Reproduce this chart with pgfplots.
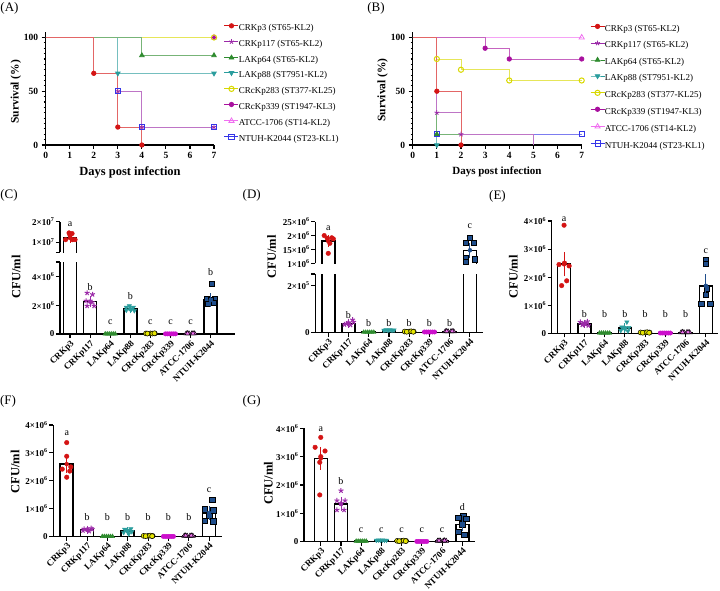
\documentclass[border=0pt]{standalone}
\usepackage{fontspec}
\setmainfont{Liberation Serif}
\usepackage{pgfplots}
\pgfplotsset{compat=1.18}
\usetikzlibrary{plotmarks}
\newcommand\fs[1]{\fontsize{#1}{#1}\selectfont}
\newcommand\tx[2]{#1×10\textsuperscript{#2}}
\definecolor{cA}{HTML}{D41414}
\definecolor{cB}{HTML}{9B2AA8}
\definecolor{cC}{HTML}{2E8B2E}
\definecolor{cD}{HTML}{2A9D9D}
\definecolor{cE}{HTML}{D8D800}
\definecolor{cF}{HTML}{A8109E}
\definecolor{cG}{HTML}{F070F0}
\definecolor{cH}{HTML}{3535E8}
\definecolor{cHb}{HTML}{1F4E8C}
\definecolor{cFb}{HTML}{CC10CC}
\definecolor{cEb}{HTML}{E6E600}
\pgfplotsset{
  survax/.style={scale only axis, xmin=0, xmax=7, ymin=0, ymax=105,
    axis lines=left, axis line style={-, line width=1.5pt},
    xtick={0,...,7}, ytick={0,50,100}, minor y tick num=9,
    tick align=outside, major tick length=4pt, minor tick length=2.2pt,
    every tick/.style={black, line width=1.1pt},
    tick label style={font=\bfseries\fs{9.5}}, /pgf/number format/assume math mode=true,
    clip=false, legend cell align=left,
    legend style={draw=none, fill=none, inner sep=0pt, outer sep=0pt, font=\fs{9}, anchor=north west,
      nodes={inner sep=0pt, text height=6.5pt, text depth=2pt},
      /tikz/every even column/.append style={column sep=-1.5pt}},
    legend image code/.code={\draw[mark repeat=2, mark phase=2, #1] plot coordinates {(0pt,2.5pt) (7pt,2.5pt) (14pt,2.5pt)};},
  },
  barax/.style={scale only axis, axis x line=bottom, axis y line=left,
    axis line style={-, line width=1.5pt},
    tick align=outside, major tick length=4pt, every tick/.style={black, line width=1.1pt},
    xtick={0,...,7}, xticklabels={CRKp3,CRKp117,LAKp64,LAKp88,CRcKp283,CRcKp339,ATCC-1706,NTUH-K2044},
    xticklabel style={rotate=45, anchor=north east, font=\bfseries\fs{9}, inner sep=1pt},
    yticklabel style={font=\bfseries\fs{9}, inner sep=1.5pt},
    scaled y ticks=false, clip mode=individual},
  upax/.style={scale only axis, axis x line=none, axis y line=left,
    axis line style={-, line width=1.5pt},
    tick align=outside, major tick length=4pt, every tick/.style={black, line width=1.1pt},
    xtick=\empty,
    yticklabel style={font=\bfseries\fs{9}, inner sep=1.5pt},
    scaled y ticks=false, clip mode=individual},
  barst/.style={ybar, bar width=13pt, fill=white, draw=black, line width=1.5pt, forget plot},
  bout/.style={draw=black, line width=1.5pt, no marks, forget plot},
  pA/.style={only marks, mark=*, mark size=2.3pt, color=cA},
  pB/.style={only marks, mark=star, mark size=2.6pt, color=cB, mark options={line width=1pt}},
  pC/.style={only marks, mark=triangle*, mark size=2.5pt, color=cC},
  pD/.style={only marks, mark=triangle*, mark size=2.5pt, color=cD, mark options={rotate=180}},
  pE/.style={only marks, mark=*, mark size=2.5pt, mark options={fill=cEb, draw=black, line width=0.5pt}},
  pF/.style={only marks, mark=*, mark size=2.2pt, color=cFb},
  pG/.style={only marks, mark=triangle*, mark size=2.8pt, mark options={fill=cG, draw=black, line width=0.5pt}},
  pH/.style={only marks, mark=square*, mark size=2.7pt, mark options={fill=cHb, draw=black, line width=0.5pt}},
  eb/.style={only marks, mark=none, color=#1, error bars/.cd, y dir=both, y explicit,
    error bar style={line width=0.9pt, color=#1}, error mark options={mark size=3.5pt, line width=0.9pt, color=#1}},
  sA/.style={color=cA, mark=*, mark size=2.2pt, line width=0.8pt},
  sB/.style={color=cB, mark=star, mark size=2.5pt, line width=0.8pt},
  sC/.style={color=cC, mark=triangle*, mark size=2.6pt, line width=0.8pt},
  sD/.style={color=cD, mark=triangle*, mark size=2.6pt, line width=0.8pt, mark options={rotate=180}},
  sE/.style={color=cE, mark=o, mark size=2.6pt, line width=0.8pt, mark options={line width=1pt}},
  sF/.style={color=cF, mark=*, mark size=2.2pt, line width=0.8pt},
  sG/.style={color=cG, mark=triangle, mark size=3pt, line width=0.8pt},
  sH/.style={color=cH, mark=square, mark size=2.6pt, line width=0.8pt, mark options={line width=0.9pt}},
  ln/.style={const plot, no marks, draw=#1!65, line width=0.9pt, forget plot},
}
\newcommand\survlegend{%
  \addlegendimage{sA}\addlegendentry{CRKp3 (ST65-KL2)}
  \addlegendimage{sB}\addlegendentry{CRKp117 (ST65-KL2)}
  \addlegendimage{sC}\addlegendentry{LAKp64 (ST65-KL2)}
  \addlegendimage{sD}\addlegendentry{LAKp88 (ST7951-KL2)}
  \addlegendimage{sE}\addlegendentry{CRcKp283 (ST377-KL25)}
  \addlegendimage{sF}\addlegendentry{CRcKp339 (ST1947-KL3)}
  \addlegendimage{sG}\addlegendentry{ATCC-1706 (ST14-KL2)}
  \addlegendimage{sH}\addlegendentry{NTUH-K2044 (ST23-KL1)}}
\begin{document}
\begin{tikzpicture}
\path[use as bounding box] (0pt,0pt) rectangle (720pt,590pt);
% panel labels
\node[font=\fs{13}] at (9.5pt,582pt) {(A)};
\node[font=\fs{13}] at (376pt,582pt) {(B)};
\node[font=\fs{13}] at (9pt,395pt) {(C)};
\node[font=\fs{13}] at (251.7pt,395pt) {(D)};
\node[font=\fs{13}] at (497.5pt,394pt) {(E)};
\node[font=\fs{13}] at (8pt,189pt) {(F)};
\node[font=\fs{13}] at (251.7pt,188.3pt) {(G)};
% axis titles
\node[rotate=90, font=\bfseries\fs{11.5}] at (15.8pt,498.3pt) {Survival (\%)};
\node[rotate=90, font=\bfseries\fs{11.5}] at (382.5pt,500pt) {Survival (\%)};
\node[font=\bfseries\fs{12.5}] at (130pt,417.3pt) {Days post infection};
\node[font=\bfseries\fs{11}] at (497pt,417.7pt) {Days post infection};
\node[rotate=90, font=\bfseries\fs{12.5}] at (16pt,313pt) {CFU/ml};
\node[rotate=90, font=\bfseries\fs{12.5}] at (271.7pt,333pt) {CFU/ml};
\node[rotate=90, font=\bfseries\fs{12.5}] at (513.3pt,313.3pt) {CFU/ml};
\node[rotate=90, font=\bfseries\fs{12.5}] at (15pt,118.3pt) {CFU/ml};
\node[rotate=90, font=\bfseries\fs{12.5}] at (268.3pt,106.7pt) {CFU/ml};

% ---------------- (A)
\begin{axis}[survax, at={(45.7pt,445pt)}, anchor=south west, width=168.3pt, height=112.9pt,
  legend style={at={(1.06,1.075)}, row sep=6.65pt}]
\survlegend
\addplot[ln=cH] coordinates {(0,100)(3,50)(4,16.67)(7,16.67)};
\addplot[ln=cB] coordinates {(0,100)(3,50)(4,16.67)(7,16.67)};
\addplot[ln=cG] coordinates {(0,100)(7,100)};
\addplot[ln=cF] coordinates {(0,100)(7,100)};
\addplot[ln=cE] coordinates {(0,100)(7,100)};
\addplot[ln=cD] coordinates {(0,100)(3,66.67)(7,66.67)};
\addplot[ln=cC] coordinates {(0,100)(4,83.33)(7,83.33)};
\addplot[ln=cA] coordinates {(0,100)(2,66.67)(3,16.67)(4,0)};
\addplot[sB, only marks, forget plot] coordinates {(3,50)(4,16.67)(7,16.67)};
\addplot[sH, only marks, forget plot] coordinates {(3,50)(4,16.67)(7,16.67)};
\addplot[sG, only marks, forget plot] coordinates {(7,100)};
\addplot[sE, only marks, forget plot] coordinates {(7,100)};
\addplot[sF, only marks, mark size=1.5pt, forget plot] coordinates {(7,100)};
\addplot[sD, only marks, forget plot] coordinates {(3,66.67)(7,66.67)};
\addplot[sC, only marks, forget plot] coordinates {(4,83.33)(7,83.33)};
\addplot[sA, only marks, forget plot] coordinates {(2,66.67)(3,16.67)(4,0)};
\end{axis}

% ---------------- (B)
\begin{axis}[survax, at={(412.7pt,445pt)}, anchor=south west, width=169pt, height=112.9pt,
  legend style={at={(1.05,1.07)}, row sep=7.5pt}]
\survlegend
\addplot[ln=cH] coordinates {(0,100)(1,10)(7,10)};
\addplot[ln=cG] coordinates {(0,100)(7,100)};
\addplot[ln=cF] coordinates {(0,100)(3,90)(4,80)(7,80)};
\addplot[ln=cE] coordinates {(0,100)(1,80)(2,70)(4,60)(7,60)};
\addplot[ln=cD] coordinates {(0,100)(1,0)};
\addplot[ln=cC] coordinates {(0,100)(1,10)(2,0)};
\addplot[ln=cB] coordinates {(0,100)(1,30)(2,10)(5,0)};
\addplot[ln=cA] coordinates {(0,100)(1,50)(2,0)};
\addplot[sH, only marks, forget plot] coordinates {(1,10)(7,10)};
\addplot[sG, only marks, forget plot] coordinates {(7,100)};
\addplot[sF, only marks, forget plot] coordinates {(3,90)(4,80)(7,80)};
\addplot[sE, only marks, forget plot] coordinates {(1,80)(2,70)(4,60)(7,60)};
\addplot[sD, only marks, forget plot] coordinates {(1,0)};
\addplot[sC, only marks, forget plot] coordinates {(1,10)};
\addplot[sB, only marks, forget plot] coordinates {(1,30)(2,10)};
\addplot[sA, only marks, forget plot] coordinates {(1,50)(2,0)};
\end{axis}

% ---------------- (C) lower
\begin{axis}[barax, at={(60pt,256pt)}, anchor=south west, width=175pt, height=72pt,
  xmin=-0.5, xmax=8.21, ymin=0, ymax=5e6, ytick={0,2e6,4e6,5e6},
  yticklabels={0,\tx{2}{6},\tx{4}{6},{}}]
\addplot[barst] coordinates {(0,1.2e7)(1,2.25e6)(2,2e4)(3,1.72e6)(4,4e4)(5,2e4)(6,4e4)(7,2.35e6)};
\addplot[pB] coordinates {(0.85,2.85e6)(1.12,2.75e6)(0.8,2.3e6)(1.1,2.2e6)(0.85,1.95e6)(1.2,1.95e6)};
\addplot[pC] coordinates {(1.75,1e4)(1.85,1e4)(1.95,1e4)(2.05,1e4)(2.15,1e4)(2.25,1e4)};
\addplot[pD] coordinates {(2.95,1.95e6)(2.8,1.85e6)(3.15,1.85e6)(2.8,1.65e6)(3.05,1.72e6)(3.2,1.62e6)};
\addplot[pE] coordinates {(3.78,4e4)(4,4e4)(4.22,4e4)(3.85,3e4)(4.1,3e4)(4.2,5e4)};
\addplot[pF] coordinates {(4.75,1e4)(4.85,1e4)(4.95,1e4)(5.05,1e4)(5.15,1e4)(5.25,1e4)};
\addplot[pG] coordinates {(5.78,3e4)(5.92,3e4)(6.06,3e4)(6.2,3e4)(5.85,4e4)(6.12,4e4)};
\addplot[pH] coordinates {(7.05,3.5e6)(6.8,2.45e6)(7.2,2.45e6)(7,2.35e6)(6.85,2.1e6)(7.15,2.15e6)};
\addplot[eb=cB] coordinates {(1,2.25e6) +- (0,1.5e5)};
\addplot[eb=cD] coordinates {(3,1.72e6) +- (0,5e4)};
\addplot[eb=cHb] coordinates {(7,2.35e6) +- (0,2.2e5)};
\node[font=\fs{10}] at (axis cs:1,3.26e6) {b};
\node[font=\fs{10}] at (axis cs:2,0.79e6) {c};
\node[font=\fs{10}] at (axis cs:3,2.6e6) {b};
\node[font=\fs{10}] at (axis cs:4,0.79e6) {c};
\node[font=\fs{10}] at (axis cs:5,0.79e6) {c};
\node[font=\fs{10}] at (axis cs:6,0.79e6) {c};
\node[font=\fs{10}] at (axis cs:7,4.28e6) {b};
\end{axis}
% (C) upper
\begin{axis}[upax, at={(60pt,337.7pt)}, anchor=south west, width=175pt, height=30.6pt,
  xmin=-0.5, xmax=8.21, ymin=5e6, ymax=2e7, ytick={5e6,1e7,2e7},
  yticklabels={{},\tx{1}{7},\tx{2}{7}}]
\addplot[bout] coordinates {(-0.323,0)(-0.323,1.2e7)(0.323,1.2e7)(0.323,0)};
\addplot[pA] coordinates {(-0.05,1.45e7)(0.1,1.42e7)(0.0,1.33e7)(-0.22,1.12e7)(0.12,1.12e7)(0.25,1.12e7)};
\addplot[eb=cA] coordinates {(0,1.2e7) +- (0,6e5)};
\node[font=\fs{10}] at (axis cs:0,1.89e7) {a};
\end{axis}

% ---------------- (D) lower
\begin{axis}[barax, at={(315.3pt,257.3pt)}, anchor=south west, width=168pt, height=58.7pt,
  xmin=-0.64, xmax=7.66, ymin=0, ymax=2.5e5, ytick={0,2e5,2.5e5},
  yticklabels={0,\tx{2}{5},{}}]
\addplot[barst] coordinates {(0,1.8e6)(1,4e4)(2,3e3)(3,1e4)(4,5e3)(5,3e3)(6,5e3)(7,1.47e6)};
\addplot[pB] coordinates {(0.8,3.5e4)(1.2,5.5e4)(1,4.2e4)(0.9,3.8e4)(1.1,3.3e4)(1.25,4.5e4)};
\addplot[pC] coordinates {(1.75,2e3)(1.85,2e3)(1.95,2e3)(2.05,2e3)(2.15,2e3)(2.25,2e3)};
\addplot[pD] coordinates {(2.75,1e4)(2.85,1.2e4)(2.95,1e4)(3.05,1.2e4)(3.15,1e4)(3.25,1.1e4)};
\addplot[pE] coordinates {(3.78,5e3)(4,5e3)(4.22,5e3)(3.88,4e3)(4.1,6e3)(4.2,4e3)};
\addplot[pF] coordinates {(4.75,3e3)(4.85,3e3)(4.95,3e3)(5.05,3e3)(5.15,3e3)(5.25,3e3)};
\addplot[pG] coordinates {(5.78,5e3)(5.92,5e3)(6.06,5e3)(6.2,5e3)(5.85,6e3)(6.12,6e3)};
\addplot[eb=cB] coordinates {(1,4e4) +- (0,4e3)};
\node[font=\fs{10}] at (axis cs:1,7.5e4) {b};
\node[font=\fs{10}] at (axis cs:2,4.3e4) {b};
\node[font=\fs{10}] at (axis cs:3,4.3e4) {b};
\node[font=\fs{10}] at (axis cs:4,4.3e4) {b};
\node[font=\fs{10}] at (axis cs:5,4.3e4) {b};
\node[font=\fs{10}] at (axis cs:6,4.3e4) {b};
\end{axis}
% (D) upper
\begin{axis}[upax, at={(315.3pt,326.7pt)}, anchor=south west, width=168pt, height=41.6pt,
  xmin=-0.64, xmax=7.66, ymin=1e6, ymax=2.5e6, ytick={1e6,1.5e6,2e6,2.5e6},
  yticklabels={\tx{1}{6},\tx{15}{6},\tx{2}{6},\tx{25}{6}}]
\addplot[bout] coordinates {(-0.321,0)(-0.321,1.8e6)(0.321,1.8e6)(0.321,0)};
\addplot[bout] coordinates {(6.679,0)(6.679,1.47e6)(7.321,1.47e6)(7.321,0)};
\addplot[pA] coordinates {(-0.2,2.0e6)(-0.05,1.9e6)(0.17,1.92e6)(0.25,1.88e6)(0.08,1.72e6)(0,1.36e6)};
\addplot[pH] coordinates {(7.0,1.92e6)(6.8,1.75e6)(7.2,1.75e6)(6.8,1.2e6)(7.25,1.15e6)(6.8,1.05e6)};
\addplot[eb=cA] coordinates {(0,1.8e6) +- (0,9e4)};
\addplot[eb=cHb] coordinates {(7,1.47e6) +- (0,1.5e5)};
\node[font=\fs{10}] at (axis cs:0,2.26e6) {a};
\node[font=\fs{10}] at (axis cs:7,2.32e6) {c};
\end{axis}

% ---------------- (E)
\begin{axis}[barax, at={(551.7pt,256.7pt)}, anchor=south west, width=166.3pt, height=112.3pt,
  xmin=-0.61, xmax=7.6, ymin=0, ymax=4e6, ytick={0,1e6,2e6,3e6,4e6},
  yticklabels={0,\tx{1}{6},\tx{2}{6},\tx{3}{6},\tx{4}{6}}]
\addplot[barst] coordinates {(0,2.46e6)(1,3.4e5)(2,1e4)(3,1.9e5)(4,3e4)(5,1e4)(6,3e4)(7,1.69e6)};
\addplot[pA] coordinates {(0,3.85e6)(0.02,2.5e6)(-0.25,2.45e6)(0.25,2.4e6)(0.13,1.87e6)(-0.12,1.7e6)};
\addplot[pB] coordinates {(0.8,4e5)(1.15,4.2e5)(1,3.5e5)(0.9,3e5)(1.2,2.8e5)(1.05,3.3e5)};
\addplot[pC] coordinates {(1.75,1e4)(1.85,1e4)(1.95,1e4)(2.05,1e4)(2.15,1e4)(2.25,1e4)};
\addplot[pD] coordinates {(3.1,4e5)(2.85,2.2e5)(3.2,2e5)(3,1.5e5)(2.8,1e5)(3.15,8e4)};
\addplot[pE] coordinates {(3.78,3e4)(4,3e4)(4.22,3e4)(3.88,2e4)(4.1,4e4)(4.2,2e4)};
\addplot[pF] coordinates {(4.75,1e4)(4.85,1e4)(4.95,1e4)(5.05,1e4)(5.15,1e4)(5.25,1e4)};
\addplot[pG] coordinates {(5.78,3e4)(5.92,3e4)(6.06,3e4)(6.2,3e4)(5.85,4e4)(6.12,4e4)};
\addplot[pH] coordinates {(7,2.6e6)(7,2.48e6)(7.05,1.6e6)(7,1.37e6)(6.78,1.05e6)(7.22,1.05e6)};
\addplot[eb=cA] coordinates {(0,2.46e6) +- (0,3.1e5)};
\addplot[eb=cB] coordinates {(1,3.4e5) +- (0,2.5e4)};
\addplot[eb=cD] coordinates {(3,1.9e5) +- (0,4.8e4)};
\addplot[eb=cHb] coordinates {(7,1.69e6) +- (0,2.8e5)};
\node[font=\fs{10}] at (axis cs:0,4.07e6) {a};
\node[font=\fs{10}] at (axis cs:1,0.69e6) {b};
\node[font=\fs{10}] at (axis cs:2,0.69e6) {b};
\node[font=\fs{10}] at (axis cs:3,0.69e6) {b};
\node[font=\fs{10}] at (axis cs:4,0.69e6) {b};
\node[font=\fs{10}] at (axis cs:5,0.69e6) {b};
\node[font=\fs{10}] at (axis cs:6,0.69e6) {b};
\node[font=\fs{10}] at (axis cs:7,2.91e6) {c};
\end{axis}

% ---------------- (F)
\begin{axis}[barax, at={(53.3pt,53.3pt)}, anchor=south west, width=168.4pt, height=111.7pt,
  xmin=-0.66, xmax=7.62, ymin=0, ymax=4e6, ytick={0,1e6,2e6,3e6,4e6},
  yticklabels={0,\tx{1}{6},\tx{2}{6},\tx{3}{6},\tx{4}{6}}]
\addplot[barst] coordinates {(0,2.6e6)(1,2.5e5)(2,1e4)(3,2e5)(4,3e4)(5,1e4)(6,3e4)(7,0.85e6)};
\addplot[pA] coordinates {(0,3.37e6)(0,2.88e6)(0.2,2.5e6)(-0.22,2.42e6)(0.15,2.35e6)(0,2.13e6)};
\addplot[pB] coordinates {(1.2,3e5)(0.85,2.8e5)(1.05,2.5e5)(0.8,2.2e5)(1.1,2e5)(1.25,2.7e5)};
\addplot[pC] coordinates {(1.75,1e4)(1.85,1e4)(1.95,1e4)(2.05,1e4)(2.15,1e4)(2.25,1e4)};
\addplot[pD] coordinates {(3.15,2.8e5)(2.85,2.6e5)(3,2.2e5)(3.2,1.8e5)(2.8,1.5e5)(3.05,1e5)};
\addplot[pE] coordinates {(3.78,3e4)(4,3e4)(4.22,3e4)(3.88,2e4)(4.1,4e4)(4.2,2e4)};
\addplot[pF] coordinates {(4.75,1e4)(4.85,1e4)(4.95,1e4)(5.05,1e4)(5.15,1e4)(5.25,1e4)};
\addplot[pG] coordinates {(5.78,3e4)(5.92,3e4)(6.06,3e4)(6.2,3e4)(5.85,4e4)(6.12,4e4)};
\addplot[pH] coordinates {(7.15,1.33e6)(6.8,0.98e6)(7.2,0.95e6)(7,0.75e6)(6.8,0.58e6)(7.2,0.55e6)};
\addplot[eb=cA] coordinates {(0,2.6e6) +- (0,1.8e5)};
\addplot[eb=cB] coordinates {(1,2.5e5) +- (0,1.8e4)};
\addplot[eb=cD] coordinates {(3,2e5) +- (0,2.7e4)};
\addplot[eb=cHb] coordinates {(7,0.85e6) +- (0,1.2e5)};
\node[font=\fs{10}] at (axis cs:0,3.69e6) {a};
\node[font=\fs{10}] at (axis cs:1,0.69e6) {b};
\node[font=\fs{10}] at (axis cs:2,0.69e6) {b};
\node[font=\fs{10}] at (axis cs:3,0.69e6) {b};
\node[font=\fs{10}] at (axis cs:4,0.69e6) {b};
\node[font=\fs{10}] at (axis cs:5,0.69e6) {b};
\node[font=\fs{10}] at (axis cs:6,0.69e6) {b};
\node[font=\fs{10}] at (axis cs:7,1.67e6) {c};
\end{axis}

% ---------------- (G)
\begin{axis}[barax, at={(304pt,48.3pt)}, anchor=south west, width=171pt, height=113.4pt,
  xmin=-0.83, xmax=7.63, ymin=0, ymax=4e6, ytick={0,1e6,2e6,3e6,4e6},
  yticklabels={0,\tx{1}{6},\tx{2}{6},\tx{3}{6},\tx{4}{6}}]
\addplot[barst] coordinates {(0,2.94e6)(1,1.33e6)(2,2e4)(3,5e4)(4,3e4)(5,1e4)(6,3e4)(7,0.6e6)};
\addplot[pA] coordinates {(0,3.68e6)(-0.28,3.33e6)(0.21,3.2e6)(0,3.0e6)(-0.05,2.8e6)(-0.05,1.65e6)};
\addplot[pB] coordinates {(1,1.8e6)(0.8,1.45e6)(1.2,1.45e6)(1,1.35e6)(0.8,1.12e6)(1.15,1.12e6)};
\addplot[pC] coordinates {(1.75,2e4)(1.85,2e4)(1.95,2e4)(2.05,2e4)(2.15,2e4)(2.25,2e4)};
\addplot[pD] coordinates {(2.75,5e4)(2.85,6e4)(2.95,5e4)(3.05,6e4)(3.15,5e4)(3.25,5e4)};
\addplot[pE] coordinates {(3.78,3e4)(4,3e4)(4.22,3e4)(3.88,2e4)(4.1,4e4)(4.2,2e4)};
\addplot[pF] coordinates {(4.75,1e4)(4.85,1e4)(4.95,1e4)(5.05,1e4)(5.15,1e4)(5.25,1e4)};
\addplot[pG] coordinates {(5.78,3e4)(5.92,3e4)(6.06,3e4)(6.2,3e4)(5.85,4e4)(6.12,4e4)};
\addplot[pH] coordinates {(7.05,0.92e6)(6.8,0.85e6)(7.2,0.82e6)(7,0.62e6)(6.8,0.35e6)(7.1,0.25e6)};
\addplot[eb=cA] coordinates {(0,2.94e6) +- (0,2.8e5)};
\addplot[eb=cB] coordinates {(1,1.33e6) +- (0,1.1e5)};
\addplot[eb=cHb] coordinates {(7,0.6e6) +- (0,1.1e5)};
\node[font=\fs{10}] at (axis cs:0,3.98e6) {a};
\node[font=\fs{10}] at (axis cs:1,2.13e6) {b};
\node[font=\fs{10}] at (axis cs:2,0.39e6) {c};
\node[font=\fs{10}] at (axis cs:3,0.39e6) {c};
\node[font=\fs{10}] at (axis cs:4,0.39e6) {c};
\node[font=\fs{10}] at (axis cs:5,0.39e6) {c};
\node[font=\fs{10}] at (axis cs:6,0.39e6) {c};
\node[font=\fs{10}] at (axis cs:7,1.21e6) {d};
\end{axis}
\end{tikzpicture}
\end{document}
